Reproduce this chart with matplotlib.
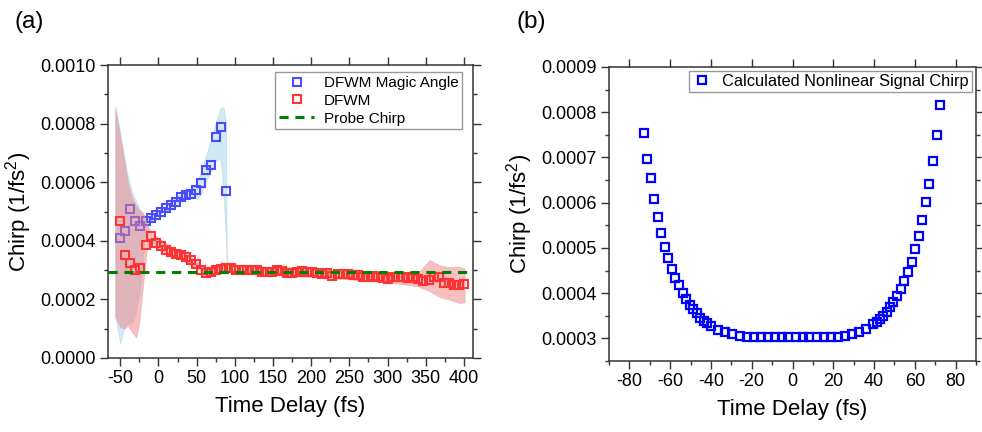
import matplotlib
matplotlib.use("Agg")
import matplotlib.pyplot as plt
from matplotlib.ticker import MultipleLocator, FormatStrFormatter

plt.rcParams['font.family'] = ['Liberation Sans', 'DejaVu Sans']
plt.rcParams['mathtext.fontset'] = 'custom'
plt.rcParams['mathtext.rm'] = 'Liberation Sans'
plt.rcParams['mathtext.it'] = 'Liberation Sans:italic'
plt.rcParams['axes.unicode_minus'] = False

# --- panel (a): measured chirp ---
delay_a = [-50.0, -43.4, -36.8, -30.1, -23.5, -16.9, -10.3, -3.7, 2.9, 9.6,
           16.2, 22.8, 29.4, 36.0, 42.7, 49.3, 55.9, 62.5, 69.1, 75.7,
           82.4, 89.0, 95.6, 102.2, 108.8, 115.5, 122.1, 128.7, 135.3, 141.9,
           148.5, 155.2, 161.8, 168.4, 175.0, 181.6, 188.2, 194.9, 201.5, 208.1,
           214.7, 221.3, 227.9, 234.6, 241.2, 247.8, 254.4, 261.0, 267.6, 274.3,
           280.9, 287.5, 294.1, 300.7, 307.4, 314.0, 320.6, 327.2, 333.8, 340.4,
           347.0, 353.7, 360.3, 366.9, 373.5, 380.1, 386.7, 393.4, 400.0]

dfwm = [0.000466, 0.000352, 0.000324, 0.000301, 0.000307, 0.000386, 0.000415, 0.000394, 0.000381, 0.000369,
        0.000361, 0.000356, 0.000350, 0.000344, 0.000335, 0.000320, 0.000301, 0.000290, 0.000292, 0.000299,
        0.000305, 0.000306, 0.000306, 0.000302, 0.000301, 0.000300, 0.000300, 0.000299, 0.000295, 0.000292,
        0.000293, 0.000299, 0.000296, 0.000289, 0.000291, 0.000294, 0.000296, 0.000293, 0.000292, 0.000289,
        0.000286, 0.000289, 0.000281, 0.000285, 0.000288, 0.000285, 0.000283, 0.000283, 0.000276, 0.000275,
        0.000279, 0.000276, 0.000273, 0.000270, 0.000276, 0.000276, 0.000275, 0.000272, 0.000276, 0.000268,
        0.000263, 0.000265, 0.000275, 0.000277, 0.000256, 0.000256, 0.000250, 0.000249, 0.000254]

magic = [0.000409, 0.000432, 0.000508, 0.000466, 0.000451, 0.000466, 0.000477, 0.000489, 0.000500, 0.000511,
         0.000523, 0.000532, 0.000549, 0.000555, 0.000560, 0.000572, 0.000599, 0.000642, 0.000659, 0.000753,
         0.000788, 0.000569]

# uncertainty bands
magic_band_x = [-56.5, -50, -45, -40, -35, -30, -25, -16.5, -10, 0, 10, 20, 30, 40, 45,
                50, 55, 62, 69, 76, 80.7, 83, 86, 88.5, 89.4]
magic_band_lo = [0.00014, 0.00005, 0.00010, 0.00012, 0.00012, 0.00015, 0.00022, 0.00045, 0.000468, 0.00049,
                 0.000502, 0.000522, 0.000538, 0.00055, 0.00055, 0.000545, 0.000555, 0.00060, 0.00064, 0.000675,
                 0.00068, 0.00064, 0.00052, 0.00040, 0.000322]
magic_band_hi = [0.00086, 0.00077, 0.00069, 0.00062, 0.00057, 0.00054, 0.00051, 0.00048, 0.000485, 0.000505,
                 0.00052, 0.000542, 0.00056, 0.000572, 0.00058, 0.000600, 0.00063, 0.00069, 0.000745, 0.00081,
                 0.00085, 0.000858, 0.00085, 0.00080, 0.00033]

dfwm_band_x = [-56.5, -50, -45, -40, -35, -29, -25, -20, -15, -10, 0, 20, 40, 50, 60, 70, 90, 120,
               160, 200, 240, 280, 320, 340, 355, 368, 380, 394, 401]
dfwm_band_hi = [0.00085, 0.000755, 0.00068, 0.00060, 0.00055, 0.00052, 0.000505, 0.000495, 0.00046, 0.00043,
                0.00041, 0.00037, 0.000348, 0.00033, 0.000307, 0.000306, 0.000318, 0.000313, 0.000312, 0.000305,
                0.000298, 0.000293, 0.000292, 0.00029, 0.000335, 0.000317, 0.00031, 0.000312, 0.000305]
dfwm_band_lo = [0.00014, 0.000105, 0.0001, 0.00011, 0.00009, 0.00007, 0.00012, 0.00025, 0.00037, 0.0004,
                0.00037, 0.00035, 0.00032, 0.00031, 0.000282, 0.000284, 0.000294, 0.00029, 0.000282, 0.000276,
                0.00027, 0.000262, 0.000252, 0.000244, 0.000228, 0.000209, 0.0002, 0.000187, 0.00019]

probe_chirp = 0.000292

# --- panel (b): calculated chirp ---
delay_b = [-73.0, -71.3, -69.6, -67.8, -66.1, -64.3, -62.5, -60.9, -59.3, -57.5,
           -55.7, -53.9, -52.2, -50.4, -48.8, -47.0, -45.2, -43.6, -41.8, -40.2,
           -36.4, -33.0, -29.6, -26.0, -22.5, -19.1, -15.7, -12.2, -8.8, -5.4,
           -2.0, 1.5, 4.9, 8.3, 11.9, 15.3, 18.8, 22.2, 25.6, 29.2,
           32.7, 36.1, 39.5, 41.3, 42.8, 44.6, 46.2, 47.8, 49.5, 51.4,
           53.1, 54.9, 56.7, 58.4, 60.2, 62.0, 63.7, 65.5, 67.1, 68.9,
           70.7, 72.5]
calc_chirp = [0.000754, 0.000697, 0.000654, 0.000608, 0.000569, 0.000533, 0.000503, 0.000477, 0.000454, 0.000434,
              0.000417, 0.000401, 0.000386, 0.000374, 0.000364, 0.000355, 0.000346, 0.000339, 0.000333, 0.000328,
              0.000319, 0.000313, 0.000309, 0.000306, 0.000304, 0.000303, 0.000302, 0.000302, 0.000302, 0.000302,
              0.000302, 0.000302, 0.000302, 0.000302, 0.000302, 0.000303, 0.000304, 0.000304, 0.000306, 0.000310,
              0.000315, 0.000321, 0.000332, 0.000337, 0.000343, 0.000350, 0.000358, 0.000369, 0.000381, 0.000393,
              0.000410, 0.000427, 0.000447, 0.000469, 0.000497, 0.000527, 0.000561, 0.000601, 0.000641, 0.000692,
              0.000749, 0.000815]

AX_COLOR = "#333333"


def style_axes(ax):
    for sp in ax.spines.values():
        sp.set_color(AX_COLOR)
        sp.set_linewidth(1.1)
    ax.tick_params(which="both", direction="out", color=AX_COLOR, width=1.0,
                   labelsize=13, labelcolor="black", top=True, right=True,
                   labeltop=False, labelright=False)
    ax.tick_params(which="major", length=5.5)
    ax.tick_params(which="minor", length=3)
    ax.tick_params(axis="x", which="minor", top=False)
    ax.yaxis.set_major_formatter(FormatStrFormatter("%.4f"))


fig = plt.figure(figsize=(9.82, 4.32), dpi=100)
ax1 = fig.add_axes([0.110, 0.1713, 0.3717, 0.6782])
ax2 = fig.add_axes([0.6202, 0.1644, 0.3737, 0.6806])

# (a)
ax1.fill_between(magic_band_x, magic_band_lo, magic_band_hi, color="#87ceeb", alpha=0.4,
                 lw=0.5, edgecolor="#9ab8c8", zorder=1)
ax1.plot(delay_a[:len(magic)], magic, ls="none", marker="s", ms=5.8, mfc="none",
         mec="#4a4aff", mew=1.5, label="DFWM Magic Angle", zorder=2)
ax1.fill_between(dfwm_band_x, dfwm_band_lo, dfwm_band_hi, color="#f08080", alpha=0.5,
                 lw=0.5, edgecolor="#d8a0a0", zorder=3)
ax1.plot(delay_a, dfwm, ls="none", marker="s", ms=5.8, mfc="none",
         mec="#ff3333", mew=1.5, label="DFWM", zorder=4)
ax1.axhline(probe_chirp, color="#008000", ls=(0, (3, 2.2)), lw=2.2, label="Probe Chirp", zorder=5)

ax1.set_xlim(-66, 412)
ax1.set_ylim(0, 0.001)
ax1.xaxis.set_major_locator(MultipleLocator(50))
ax1.xaxis.set_minor_locator(MultipleLocator(25))
ax1.yaxis.set_major_locator(MultipleLocator(0.0002))
ax1.yaxis.set_minor_locator(MultipleLocator(0.0001))
style_axes(ax1)
ax1.set_xlabel("Time Delay (fs)", fontsize=16, labelpad=6)
ax1.set_ylabel("Chirp (1/fs$^2$)", fontsize=16, labelpad=4)

leg1 = ax1.legend(loc="upper right", bbox_to_anchor=(0.970, 0.976), borderaxespad=0,
                  fontsize=11, fancybox=False, frameon=True, handlelength=2.3,
                  handletextpad=0.6, borderpad=0.25, labelspacing=0.25, markerscale=1.0)
leg1.get_frame().set_edgecolor("#808080")
leg1.get_frame().set_linewidth(1.0)

# (b)
ax2.plot(delay_b, calc_chirp, ls="none", marker="s", ms=5.8, mfc="none",
         mec="#0000ff", mew=1.6, label="Calculated Nonlinear Signal Chirp")
ax2.set_xlim(-90, 90)
ax2.set_ylim(0.00025, 0.0009)
ax2.xaxis.set_major_locator(MultipleLocator(20))
ax2.xaxis.set_minor_locator(MultipleLocator(10))
ax2.yaxis.set_major_locator(MultipleLocator(0.0001))
ax2.yaxis.set_minor_locator(MultipleLocator(0.00005))
style_axes(ax2)
ax2.set_xlabel("Time Delay (fs)", fontsize=16, labelpad=6)
ax2.set_ylabel("Chirp (1/fs$^2$)", fontsize=16, labelpad=4)

leg2 = ax2.legend(loc="upper right", bbox_to_anchor=(0.988, 0.987), borderaxespad=0,
                  fontsize=11.8, fancybox=False, frameon=True, handlelength=1.2,
                  handletextpad=0.6, borderpad=0.2)
leg2.get_frame().set_edgecolor("#808080")
leg2.get_frame().set_linewidth(1.0)

fig.text(0.015, 0.975, "(a)", fontsize=17.5, va="top", ha="left")
fig.text(0.526, 0.975, "(b)", fontsize=17.5, va="top", ha="left")

fig.savefig("out.png", dpi=100)
